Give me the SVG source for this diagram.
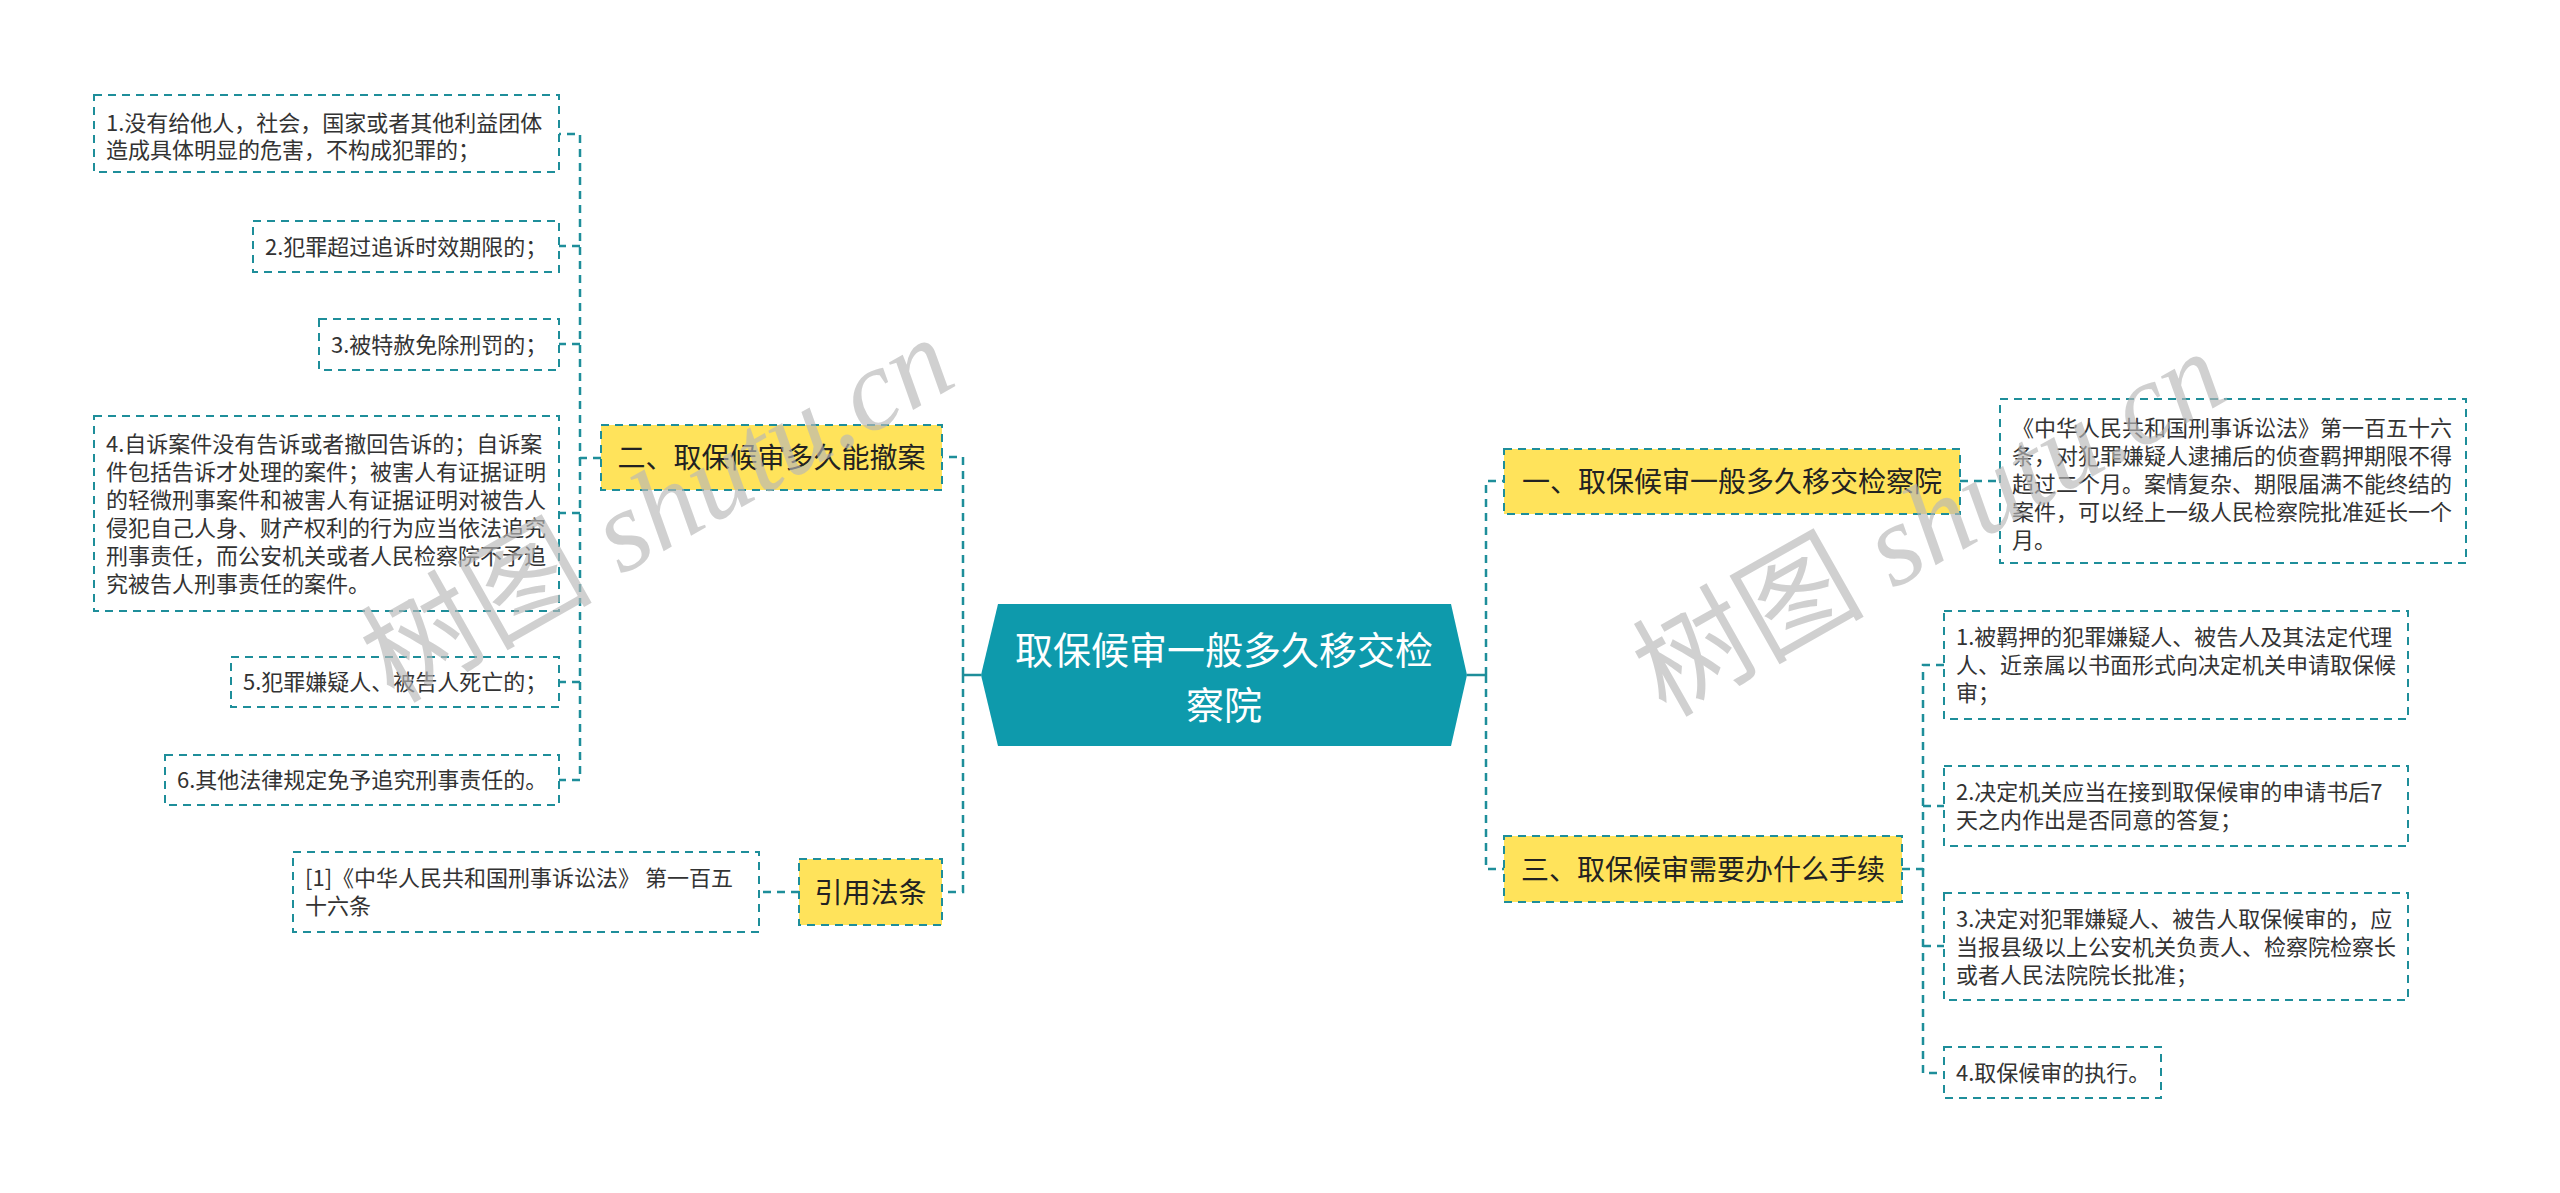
<svg xmlns="http://www.w3.org/2000/svg" width="2560" height="1193" viewBox="0 0 2560 1193">
<defs>
<style>
.box{fill:#ffffff;stroke:#1e8e9a;stroke-width:2;stroke-dasharray:8 6;}
.title{fill:#ffe35b;stroke:#1e8e9a;stroke-width:2;stroke-dasharray:8 6;}
.center{fill:#0e9aac;}
.conn{fill:none;stroke:#1e8e9a;stroke-width:2.5;stroke-dasharray:8 6;}
.solid{fill:none;stroke:#1e8e9a;stroke-width:2.5;}
.t{font-family:"Noto Sans CJK SC","Noto Sans",sans-serif;font-size:22px;fill:#333333;}
.tt{font-family:"Noto Sans CJK SC","Noto Sans",sans-serif;font-size:28px;fill:#222222;text-anchor:middle;}
.ct{font-family:"Noto Sans CJK SC","Noto Sans",sans-serif;font-size:38px;fill:#ffffff;text-anchor:middle;}
.wm{font-family:"Liberation Serif","Noto Sans CJK SC",serif;font-size:116px;fill:#b8b8b8;opacity:0.65;text-anchor:middle;}
</style>
</defs>
<rect width="2560" height="1193" fill="#ffffff"/>

<g id="connectors">
<path class="solid" d="M981,675 H963"/>
<path class="solid" d="M1467,675 H1486"/>
<path class="conn" d="M963,675 V457 H942"/>
<path class="conn" d="M963,675 V892 H942"/>
<path class="conn" d="M1486,675 V481 H1504"/>
<path class="conn" d="M1486,675 V869 H1504"/>
<path class="conn" d="M601,458 H580 V134 H559"/>
<path class="conn" d="M580,458 V780 H559"/>
<path class="conn" d="M580,246 H559"/>
<path class="conn" d="M580,344 H559"/>
<path class="conn" d="M580,513 H559"/>
<path class="conn" d="M580,682 H559"/>
<path class="conn" d="M799,892 H759"/>
<path class="conn" d="M1960,481 H2000"/>
<path class="conn" d="M1902,869 H1923 V665 H1944"/>
<path class="conn" d="M1923,869 V1073 H1944"/>
<path class="conn" d="M1923,806 H1944"/>
<path class="conn" d="M1923,946 H1944"/>
</g>

<g id="center">
<polygon class="center" points="998,604 1451,604 1467,675 1451,746 998,746 981,675"/>
<text class="ct" x="1224" y="664">取保候审一般多久移交检</text>
<text class="ct" x="1224" y="719">察院</text>
</g>

<g id="n2">
<rect class="title" x="601" y="425" width="341" height="65"/>
<text class="tt" x="771.5" y="468">二、取保候审多久能撤案</text>
</g>

<g id="n2-1">
<rect class="box" x="94" y="95" width="465" height="77"/>
<text class="t" x="106" y="131">1.没有给他人，社会，国家或者其他利益团体</text>
<text class="t" x="106" y="158">造成具体明显的危害，不构成犯罪的；</text>
</g>
<g id="n2-2">
<rect class="box" x="253" y="221" width="306" height="51"/>
<text class="t" x="265" y="255">2.犯罪超过追诉时效期限的；</text>
</g>
<g id="n2-3">
<rect class="box" x="319" y="319" width="240" height="51"/>
<text class="t" x="331" y="353">3.被特赦免除刑罚的；</text>
</g>
<g id="n2-4">
<rect class="box" x="94" y="416" width="465" height="195"/>
<text class="t" x="106" y="452">4.自诉案件没有告诉或者撤回告诉的；自诉案</text>
<text class="t" x="106" y="480">件包括告诉才处理的案件；被害人有证据证明</text>
<text class="t" x="106" y="508">的轻微刑事案件和被害人有证据证明对被告人</text>
<text class="t" x="106" y="536">侵犯自己人身、财产权利的行为应当依法追究</text>
<text class="t" x="106" y="564">刑事责任，而公安机关或者人民检察院不予追</text>
<text class="t" x="106" y="592">究被告人刑事责任的案件。</text>
</g>
<g id="n2-5">
<rect class="box" x="231" y="657" width="328" height="50"/>
<text class="t" x="243" y="690">5.犯罪嫌疑人、被告人死亡的；</text>
</g>
<g id="n2-6">
<rect class="box" x="165" y="755" width="394" height="50"/>
<text class="t" x="177" y="788">6.其他法律规定免予追究刑事责任的。</text>
</g>

<g id="n4">
<rect class="title" x="799" y="859" width="143" height="66"/>
<text class="tt" x="870.5" y="903">引用法条</text>
</g>
<g id="n4-1">
<rect class="box" x="293" y="852" width="466" height="80"/>
<text class="t" x="305" y="886">[1]《中华人民共和国刑事诉讼法》 第一百五</text>
<text class="t" x="305" y="914">十六条</text>
</g>

<g id="n1">
<rect class="title" x="1504" y="449" width="456" height="65"/>
<text class="tt" x="1732" y="492">一、取保候审一般多久移交检察院</text>
</g>
<g id="n1-1">
<rect class="box" x="2000" y="399" width="466" height="164"/>
<text class="t" x="2012" y="436">《中华人民共和国刑事诉讼法》第一百五十六</text>
<text class="t" x="2012" y="464">条，对犯罪嫌疑人逮捕后的侦查羁押期限不得</text>
<text class="t" x="2012" y="492">超过二个月。案情复杂、期限届满不能终结的</text>
<text class="t" x="2012" y="520">案件，可以经上一级人民检察院批准延长一个</text>
<text class="t" x="2012" y="548">月。</text>
</g>

<g id="n3">
<rect class="title" x="1504" y="836" width="398" height="66"/>
<text class="tt" x="1703" y="880">三、取保候审需要办什么手续</text>
</g>
<g id="n3-1">
<rect class="box" x="1944" y="611" width="464" height="108"/>
<text class="t" x="1956" y="645">1.被羁押的犯罪嫌疑人、被告人及其法定代理</text>
<text class="t" x="1956" y="673">人、近亲属以书面形式向决定机关申请取保候</text>
<text class="t" x="1956" y="701">审；</text>
</g>
<g id="n3-2">
<rect class="box" x="1944" y="766" width="464" height="80"/>
<text class="t" x="1956" y="800">2.决定机关应当在接到取保候审的申请书后7</text>
<text class="t" x="1956" y="828">天之内作出是否同意的答复；</text>
</g>
<g id="n3-3">
<rect class="box" x="1944" y="893" width="464" height="107"/>
<text class="t" x="1956" y="927">3.决定对犯罪嫌疑人、被告人取保候审的，应</text>
<text class="t" x="1956" y="955">当报县级以上公安机关负责人、检察院检察长</text>
<text class="t" x="1956" y="983">或者人民法院院长批准；</text>
</g>
<g id="n3-4">
<rect class="box" x="1944" y="1047" width="217" height="51"/>
<text class="t" x="1956" y="1081">4.取保候审的执行。</text>
</g>

<g id="watermarks">
<text class="wm" transform="translate(657,509) rotate(-29.5)" x="0" y="40">树图 <tspan font-style="italic">shutu.cn</tspan></text>
<text class="wm" transform="translate(1929,523) rotate(-29.5)" x="0" y="40">树图 <tspan font-style="italic">shutu.cn</tspan></text>
</g>
</svg>
